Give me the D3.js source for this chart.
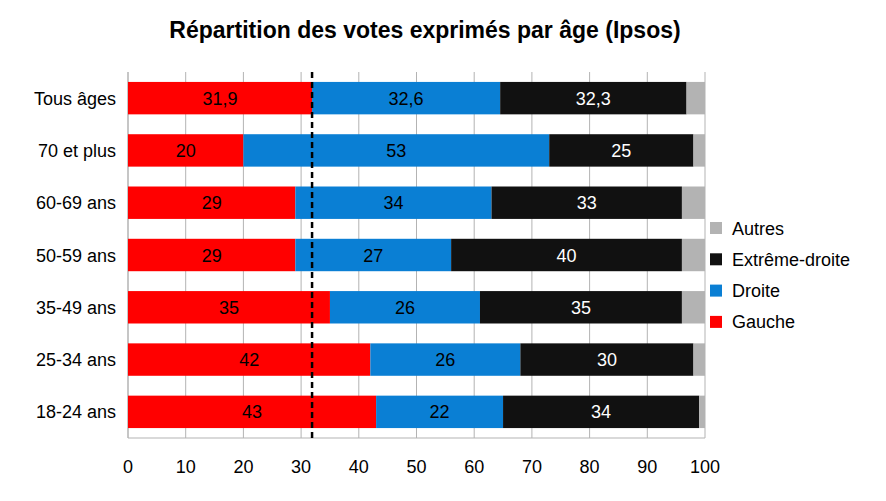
<!DOCTYPE html><html><head><meta charset="utf-8"><script src="https://cdn.jsdelivr.net/npm/d3@7"></script>
<style>body{margin:0;background:#fff}text{font-family:"Liberation Sans",Arial,sans-serif}</style></head><body>
<script>
const categories=["Tous âges","70 et plus","60-69 ans","50-59 ans","35-49 ans","25-34 ans","18-24 ans"];
const gauche=[31.9,20,29,29,35,42,43];
const droite=[32.6,53,34,27,26,26,22];
const extreme=[32.3,25,33,40,35,30,34];
const autres=[3.2,2,4,4,4,2,1];
const seriesNames=["Gauche","Droite","Extrême-droite","Autres"];
const colors=["#ff0000","#0a7fd4","#111111","#b3b3b3"];
const labelColors=["#000","#000","#fff",null];
const refLine=31.9;
const xTicks=[0,10,20,30,40,50,60,70,80,90,100];
const fmt=v=>String(v).replace(".",",");

const W=886,H=501;
const svg=d3.select("body").append("svg").attr("width",W).attr("height",H);
const x=d3.scaleLinear().domain([0,100]).range([128,705]);
const y=d3.scaleBand().domain(categories).range([72,438]).paddingInner(0.38).paddingOuter(0.19);
svg.append("text").attr("x",425).attr("y",38).attr("text-anchor","middle").attr("font-size",23).attr("font-weight","bold").text("Répartition des votes exprimés par âge (Ipsos)");
svg.append("g").selectAll("line").data(xTicks).join("line").attr("x1",d=>x(d)).attr("x2",d=>x(d)).attr("y1",72).attr("y2",438).attr("stroke","#b3b3b3");
svg.append("line").attr("x1",128).attr("x2",128).attr("y1",72).attr("y2",438).attr("stroke","#b3b3b3");
svg.append("line").attr("x1",128).attr("x2",705).attr("y1",438).attr("y2",438).attr("stroke","#b3b3b3");
const data=[gauche,droite,extreme,autres];
categories.forEach((c,i)=>{
  let acc=0;
  data.forEach((arr,s)=>{
    const v=arr[i];
    svg.append("rect").attr("x",x(acc)).attr("width",x(acc+v)-x(acc)).attr("y",y(c)).attr("height",y.bandwidth()).attr("fill",colors[s]);
    if(labelColors[s]) svg.append("text").attr("x",(x(acc)+x(acc+v))/2).attr("y",y(c)+y.bandwidth()/2+6.5).attr("text-anchor","middle").attr("font-size",18).attr("fill",labelColors[s]).text(fmt(v));
    acc+=v;
  });
  svg.append("text").attr("x",116).attr("y",y(c)+y.bandwidth()/2+6.5).attr("text-anchor","end").attr("font-size",18).text(c);
});
svg.append("line").attr("x1",x(refLine)).attr("x2",x(refLine)).attr("y1",72).attr("y2",438).attr("stroke","#000").attr("stroke-width",2.5).attr("stroke-dasharray","6,4");
xTicks.forEach(t=>svg.append("text").attr("x",x(t)).attr("y",473).attr("text-anchor","middle").attr("font-size",18).text(t));
const leg=[3,2,1,0];
leg.forEach((s,k)=>{
  const yy=228+k*31.3;
  svg.append("rect").attr("x",710).attr("y",yy-6).attr("width",12).attr("height",12).attr("fill",colors[s]);
  svg.append("text").attr("x",732).attr("y",yy+6.5).attr("font-size",18).text(seriesNames[s]);
});
</script></body></html>
